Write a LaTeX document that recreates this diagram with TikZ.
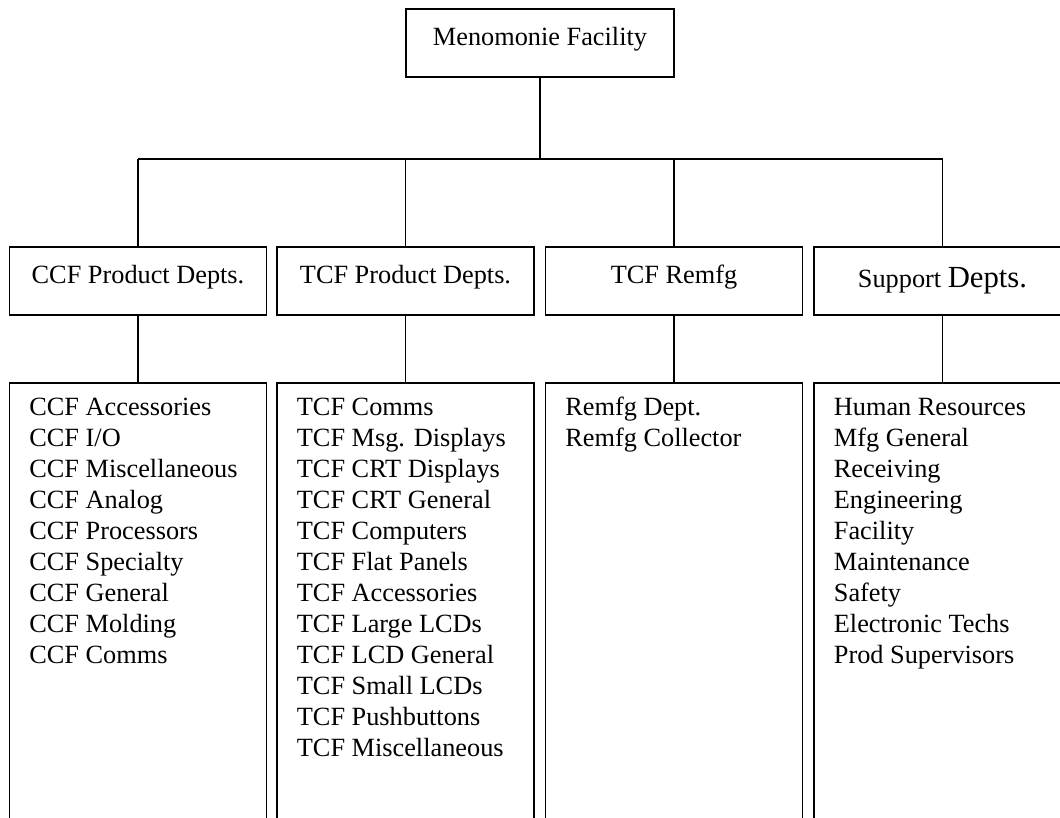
\documentclass[tikz,border=0pt]{standalone}
\usepackage{fontspec}
\setmainfont{Liberation Serif}
\usetikzlibrary{positioning}
\tikzset{
  link/.style={line width=1.6pt},
  topbox/.style={draw, line width=1.6pt, inner xsep=0pt, inner ysep=0pt, anchor=north,
    minimum width=268pt, text height=37pt, text depth=31pt, font=\fontsize{26.3}{31}\selectfont},
  deptbox/.style={topbox, minimum width=257pt},
  listbox/.style={draw, line width=1.6pt, anchor=north, minimum width=257pt, minimum height=460pt},
  listtext/.style={inner sep=0pt, align=left, font=\fontsize{26.3}{31}\selectfont}
}
\begin{document}
\begin{tikzpicture}[x=1pt,y=-1pt]
        \useasboundingbox (0,0) rectangle (1060,818);
        \clip (0,0) rectangle (1060,818);
        % top
        \node[topbox] (fac) at (540,8) {Menomonie Facility};
        % depts
        \node[deptbox] (ccf) at (138,246) {CCF Product Depts.};
        \node[deptbox] (tcf) at (405.5,246) {TCF Product Depts.};
        \node[deptbox] (rem) at (674,246) {TCF Remfg};
        \node[deptbox, text height=41pt, text depth=27pt] (sup) at (942.5,246) {Support {\fontsize{30.7}{36}\selectfont Depts.}};
        % lists
        \node[listbox] (ccfbox) at (138,382) {};
        \node[listbox] (tcfbox) at (405.5,382) {};
        \node[listbox] (rembox) at (674,382) {};
        \node[listbox] (supbox) at (942.5,382) {};
        \node[listtext, below right=11.3pt and 20.5pt of ccfbox.north west] (ccflist) {\strut CCF Accessories\\CCF I/O\\CCF Miscellaneous\\CCF Analog\\CCF Processors\\CCF Specialty\\CCF General\\CCF Molding\\CCF Comms};
        \node[listtext, below right=11.3pt and 20.5pt of tcfbox.north west] (tcflist) {\strut TCF Comms\\TCF Msg. Displays\\TCF CRT Displays\\TCF CRT General\\TCF Computers\\TCF Flat Panels\\TCF Accessories\\TCF Large LCDs\\TCF LCD General\\TCF Small LCDs\\TCF Pushbuttons\\TCF Miscellaneous};
        \node[listtext, below right=11.3pt and 20.5pt of rembox.north west] (remlist) {\strut Remfg Dept.\\Remfg Collector};
        \node[listtext, below right=11.3pt and 20.5pt of supbox.north west] (suplist) {\strut Human Resources\\Mfg General\\Receiving\\Engineering\\Facility\\Maintenance\\Safety\\Electronic Techs\\Prod Supervisors};
        % lines
        \coordinate (busL) at (138,159);
        \coordinate (busR) at (942.5,159);
        \draw[link] (busL) -- (busR);
        \draw[link] (fac.south) -- (fac.south |- busL);
        \draw[link] (ccf.north) -- (ccf.north |- busL);
        \draw[link] (tcf.north) -- (tcf.north |- busL);
        \draw[link] (rem.north) -- (rem.north |- busL);
        \draw[link] (sup.north) -- (sup.north |- busL);
        \draw[link] (ccf.south) -- (ccfbox.north);
        \draw[link] (tcf.south) -- (tcfbox.north);
        \draw[link] (rem.south) -- (rembox.north);
        \draw[link] (sup.south) -- (supbox.north);
    \end{tikzpicture}
\end{document}
